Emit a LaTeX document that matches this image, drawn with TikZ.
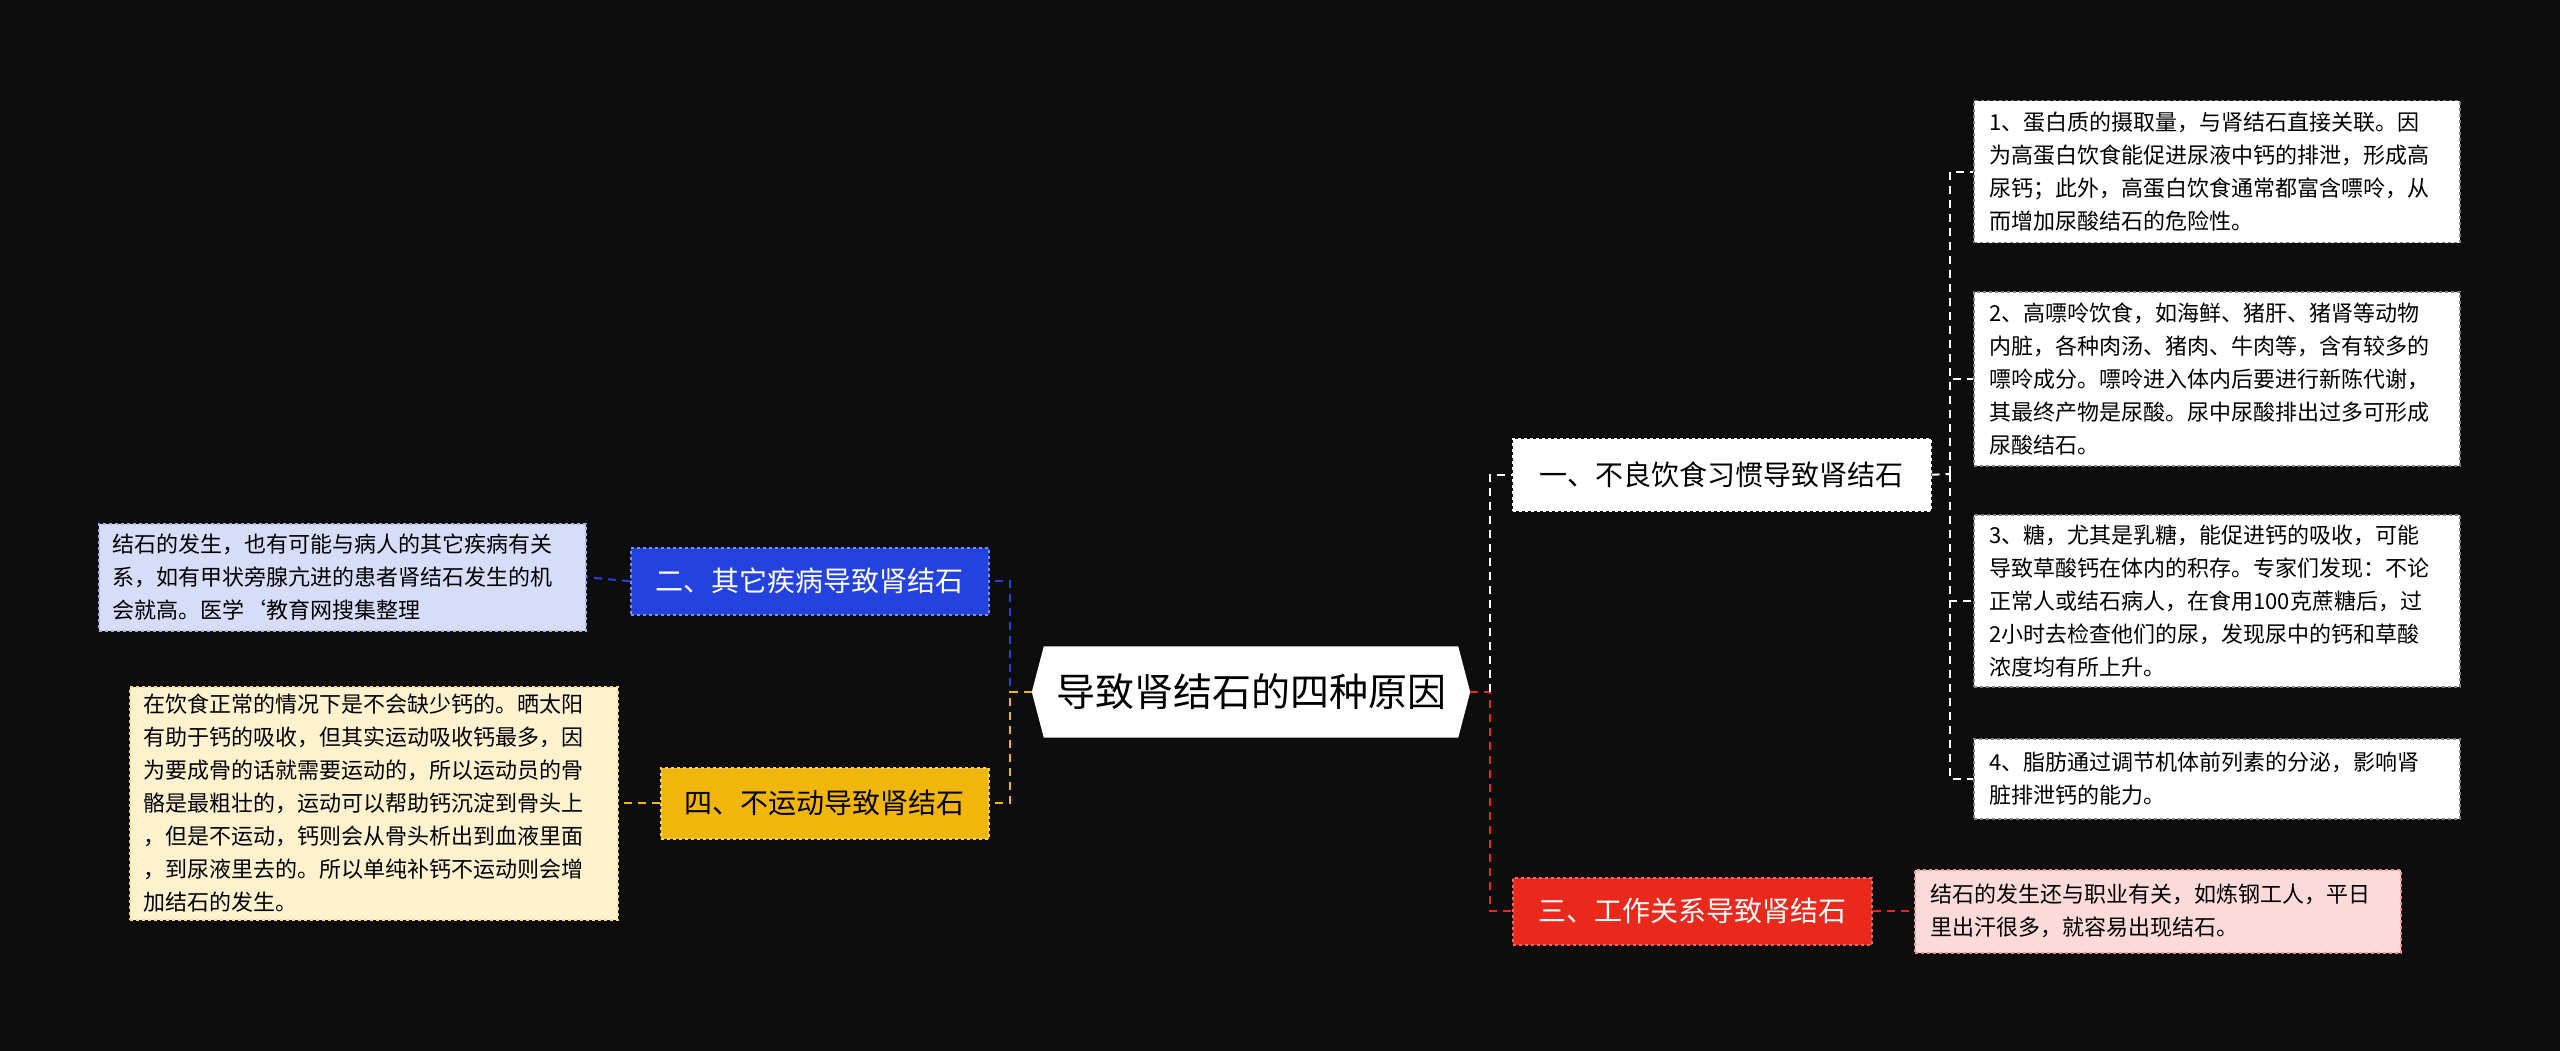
\documentclass[tikz,border=0pt]{standalone}
\usepackage{fontspec}
\setmainfont{Noto Sans CJK SC}
\definecolor{bg}{HTML}{0D0D0D}
\definecolor{cblue}{HTML}{2442DD}
\definecolor{lblue}{HTML}{D7DCF8}
\definecolor{cyel}{HTML}{F1B60C}
\definecolor{lyel}{HTML}{FDF1CE}
\definecolor{cred}{HTML}{E8291C}
\definecolor{lred}{HTML}{FBDAD9}
\begin{document}
\begin{tikzpicture}[x=1pt,y=-1pt,
 box/.style={draw, dashed, line width=1.5pt, inner sep=0pt, anchor=north west},
 leaftext/.style={font=\fontsize{22}{33}\selectfont, align=left, text=black},
 conn/.style={dashed, line width=2pt, dash pattern=on 8pt off 6pt}]
\fill[bg] (0,0) rectangle (2560,1051);
% center
\node[inner sep=0pt, minimum width=438pt, minimum height=91pt] (c) at (1251,692) {};
\fill[white] (c.west) -- ([xshift=12pt]c.north west) -- ([xshift=-12pt]c.north east) -- (c.east) -- ([xshift=-12pt]c.south east) -- ([xshift=12pt]c.south west) -- cycle;
\node[font=\fontsize{39}{44}\selectfont, text=black] at (c.center) {导致肾结石的四种原因};
% main branches
\node[box, draw=white, fill=white, minimum width=418pt, minimum height=72pt] (b1) at (1512,438) {};
\node[font=\fontsize{28}{32}\selectfont, text=black] at (b1.center) {一、不良饮食习惯导致肾结石};
\node[box, draw=cred!70!white, fill=cred, minimum width=359pt, minimum height=67pt] (b3) at (1512,877) {};
\node[font=\fontsize{28}{32}\selectfont, text=white] at (b3.center) {三、工作关系导致肾结石};
\node[box, draw=cblue!60!white, fill=cblue, minimum width=358pt, minimum height=67pt] (b2) at (630,547) {};
\node[font=\fontsize{28}{32}\selectfont, text=white] at (b2.center) {二、其它疾病导致肾结石};
\node[box, draw=cyel!60!white, fill=cyel, minimum width=328pt, minimum height=71pt] (b4) at (660,767) {};
\node[font=\fontsize{28}{32}\selectfont, text=black] at (b4.center) {四、不运动导致肾结石};
% leaves
\node[box, draw=gray, fill=white, minimum width=486pt, minimum height=142pt] (l1) at (1973,100) {};
\node[leaftext, anchor=west] at ([xshift=13pt]l1.west) {1、蛋白质的摄取量，与肾结石直接关联。因\\为高蛋白饮食能促进尿液中钙的排泄，形成高\\尿钙；此外，高蛋白饮食通常都富含嘌呤，从\\而增加尿酸结石的危险性。};
\node[box, draw=gray, fill=white, minimum width=486pt, minimum height=174pt] (l2) at (1973,291) {};
\node[leaftext, anchor=west] at ([xshift=13pt]l2.west) {2、高嘌呤饮食，如海鲜、猪肝、猪肾等动物\\内脏，各种肉汤、猪肉、牛肉等，含有较多的\\嘌呤成分。嘌呤进入体内后要进行新陈代谢，\\其最终产物是尿酸。尿中尿酸排出过多可形成\\尿酸结石。};
\node[box, draw=gray, fill=white, minimum width=486pt, minimum height=172pt] (l3) at (1973,514) {};
\node[leaftext, anchor=west] at ([xshift=13pt]l3.west) {3、糖，尤其是乳糖，能促进钙的吸收，可能\\导致草酸钙在体内的积存。专家们发现：不论\\正常人或结石病人，在食用100克蔗糖后，过\\2小时去检查他们的尿，发现尿中的钙和草酸\\浓度均有所上升。};
\node[box, draw=gray, fill=white, minimum width=486pt, minimum height=80pt] (l4) at (1973,738) {};
\node[leaftext, anchor=west] at ([xshift=13pt]l4.west) {4、脂肪通过调节机体前列素的分泌，影响肾\\脏排泄钙的能力。};
\node[box, draw=cred!50!white, fill=lred, minimum width=486pt, minimum height=83pt] (l5) at (1914,869) {};
\node[leaftext, anchor=west] at ([xshift=13pt]l5.west) {结石的发生还与职业有关，如炼钢工人，平日\\里出汗很多，就容易出现结石。};
\node[box, draw=cblue!40!white, fill=lblue, minimum width=487pt, minimum height=107pt] (l6) at (98,523) {};
\node[leaftext, anchor=west] at ([xshift=11pt]l6.west) {结石的发生，也有可能与病人的其它疾病有关\\系，如有甲状旁腺亢进的患者肾结石发生的机\\会就高。医学`教育网搜集整理};
\node[box, draw=cyel!50!white, fill=lyel, minimum width=488pt, minimum height=233pt] (l7) at (129,686) {};
\node[leaftext, anchor=west] at ([xshift=11pt]l7.west) {在饮食正常的情况下是不会缺少钙的。晒太阳\\有助于钙的吸收，但其实运动吸收钙最多，因\\为要成骨的话就需要运动的，所以运动员的骨\\骼是最粗壮的，运动可以帮助钙沉淀到骨头上\\，但是不运动，钙则会从骨头析出到血液里面\\，到尿液里去的。所以单纯补钙不运动则会增\\加结石的发生。};
% connectors
\coordinate (rj) at (1490,692);
\coordinate (lj) at (1010,692);
\draw[conn, cred] (c.east) -- (rj) |- (b3.west);
\draw[conn, white] (rj) |- (b1.west);
\draw[conn, cblue] (c.west) -- (lj) |- (b2.east);
\draw[conn, cyel] (c.west) -- (lj) |- (b4.east);
\coordinate (tj) at (1950,474);
\draw[conn, white] (b1.east) -- (tj);
\foreach \l in {l1,l2,l3,l4} \draw[conn, white] (tj) |- (\l.west);
\draw[conn, cred] (b3.east) -- (l5.west);
\draw[conn, cblue] (b2.west) -- (l6.east);
\draw[conn, cyel] (b4.west) -- (l7.east);
\end{tikzpicture}
\end{document}
